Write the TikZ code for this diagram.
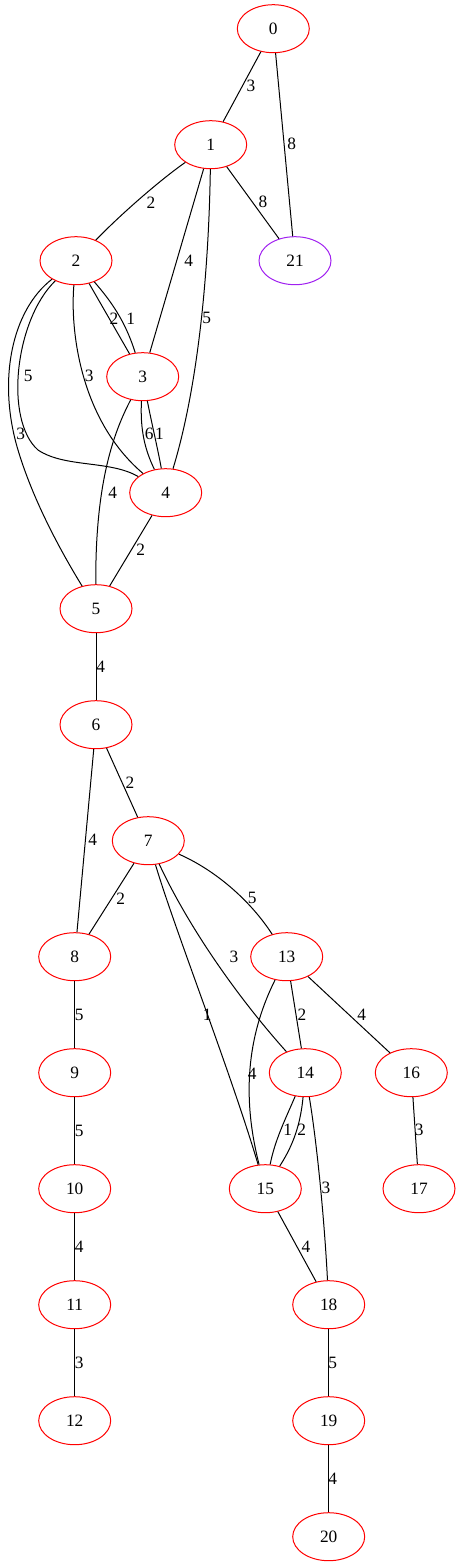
\documentclass[tikz,border=0pt]{standalone}
\usepackage{fontspec}
\setmainfont{Liberation Serif}
\usetikzlibrary{shapes.geometric}
\definecolor{gvpurple}{HTML}{A020F0}
\tikzset{
  gv/.style={ellipse, draw=red, line width=0.75pt, minimum width=54pt, minimum height=36pt, inner sep=0pt, font=\fontsize{13pt}{15pt}\selectfont},
  gvp/.style={gv, draw=gvpurple},
  lbl/.style={inner sep=0pt, font=\fontsize{13pt}{15pt}\selectfont},
  edge/.style={line width=0.75pt, black}
}
\begin{document}
\begin{tikzpicture}[x=0.75pt, y=-0.75pt]
\useasboundingbox (0,0) rectangle (460,1567);
% nodes
\node[gv] (n0) at (273.3,28.7) {0};
\node[gv] (n1) at (210.7,144.7) {1};
\node[gvp] (n21) at (295,260.7) {21};
\node[gv] (n2) at (76,260.7) {2};
\node[gv] (n3) at (142.7,376.7) {3};
\node[gv] (n4) at (165.7,492.7) {4};
\node[gv] (n5) at (96,608.7) {5};
\node[gv] (n6) at (96,724.7) {6};
\node[gv] (n7) at (148.3,840.7) {7};
\node[gv] (n8) at (74.7,956.7) {8};
\node[gv] (n13) at (286.7,956.7) {13};
\node[gv] (n9) at (74.7,1072.7) {9};
\node[gv] (n14) at (305.3,1072.7) {14};
\node[gv] (n16) at (411.3,1072.7) {16};
\node[gv] (n10) at (74.7,1188.7) {10};
\node[gv] (n15) at (265.3,1188.7) {15};
\node[gv] (n17) at (419,1188.7) {17};
\node[gv] (n11) at (74.7,1304.7) {11};
\node[gv] (n18) at (328.7,1304.7) {18};
\node[gv] (n12) at (74.7,1420.7) {12};
\node[gv] (n19) at (328.7,1420.7) {19};
\node[gv] (n20) at (328.7,1536.7) {20};
% edges
\draw[edge] (n0) -- (n1);
\draw[edge] (n0) -- (n21);
\draw[edge] (n1) .. controls (160,180) and (120,215) .. (n2);
\draw[edge] (n1) -- (n21);
\draw[edge] (n1) -- (n3);
\draw[edge] (n1) .. controls (209,260) and (200,380) .. (n4);
\draw[edge] (n2) -- (n3);
\draw[edge] (n2) .. controls (110,300) and (125,320) .. (n3);
\draw[edge] (n2) .. controls (70,330) and (80,420) .. (n4);
\draw[edge] (n2) .. controls (15,320) and (4,420) .. (38,450) .. controls (65,468) and (110,460) .. (n4);
\draw[edge] (n2) .. controls (12,310) and (-3,380) .. (18,450) .. controls (33,500) and (60,550) .. (n5);
\draw[edge] (n3) .. controls (140,430) and (145,450) .. (n4);
\draw[edge] (n3) .. controls (151,420) and (158,450) .. (n4);
\draw[edge] (n3) .. controls (115,430) and (95,480) .. (n5);
\draw[edge] (n4) -- (n5);
\draw[edge] (n5) -- (n6);
\draw[edge] (n6) -- (n7);
\draw[edge] (n6) -- (n8);
\draw[edge] (n7) -- (n8);
\draw[edge] (n7) .. controls (215,870) and (250,900) .. (n13);
\draw[edge] (n7) .. controls (190,930) and (240,1000) .. (n14);
\draw[edge] (n7) .. controls (175,930) and (230,1070) .. (n15);
\draw[edge] (n13) -- (n14);
\draw[edge] (n13) .. controls (250,1030) and (240,1090) .. (n15);
\draw[edge] (n13) -- (n16);
\draw[edge] (n8) -- (n9);
\draw[edge] (n9) -- (n10);
\draw[edge] (n10) -- (n11);
\draw[edge] (n11) -- (n12);
\draw[edge] (n14) .. controls (285,1120) and (275,1140) .. (n15);
\draw[edge] (n14) .. controls (300,1130) and (290,1150) .. (n15);
\draw[edge] (n14) .. controls (318,1150) and (325,1230) .. (n18);
\draw[edge] (n15) -- (n18);
\draw[edge] (n16) -- (n17);
\draw[edge] (n18) -- (n19);
\draw[edge] (n19) -- (n20);
% labels
\node[lbl] (l0a) at (251,86) {3};
\node[lbl] (l0b) at (291.7,144.3) {8};
\node[lbl] (l1a) at (151,203) {2};
\node[lbl] (l1b) at (263,202) {8};
\node[lbl] (l1c) at (188.7,260.7) {4};
\node[lbl] (l1d) at (206.7,318.3) {5};
\node[lbl] (l2a) at (114,318.3) {2};
\node[lbl] (l2b) at (130.7,318.3) {1};
\node[lbl] (l2c) at (28.3,376) {5};
\node[lbl] (l2d) at (89.3,376) {3};
\node[lbl] (l2e) at (20.7,434) {3};
\node[lbl] (l3a) at (149.3,434) {6};
\node[lbl] (l3b) at (159.5,434) {1};
\node[lbl] (l3c) at (112.7,492.7) {4};
\node[lbl] (l4a) at (140.7,550) {2};
\node[lbl] (l5a) at (100.7,666.7) {4};
\node[lbl] (l6a) at (130,782.7) {2};
\node[lbl] (l6b) at (92.7,840) {4};
\node[lbl] (l7a) at (120.7,898.3) {2};
\node[lbl] (l7b) at (252.3,897.7) {5};
\node[lbl] (l7c) at (234,956.7) {3};
\node[lbl] (l7d) at (207.3,1015) {1};
\node[lbl] (l13a) at (302,1015) {2};
\node[lbl] (l13b) at (252.3,1073.3) {4};
\node[lbl] (l13c) at (361.7,1015) {4};
\node[lbl] (l8a) at (79.3,1014.7) {5};
\node[lbl] (l9a) at (79.3,1130.7) {5};
\node[lbl] (l10a) at (79.3,1246.7) {4};
\node[lbl] (l11a) at (79.3,1362.7) {3};
\node[lbl] (l14a) at (287.7,1130) {1};
\node[lbl] (l14b) at (301.7,1130) {2};
\node[lbl] (l14c) at (326,1188.3) {3};
\node[lbl] (l15a) at (306,1246.7) {4};
\node[lbl] (l16a) at (419.3,1130) {3};
\node[lbl] (l18a) at (332.7,1362.7) {5};
\node[lbl] (l19a) at (332.7,1478.7) {4};
\end{tikzpicture}
\end{document}
